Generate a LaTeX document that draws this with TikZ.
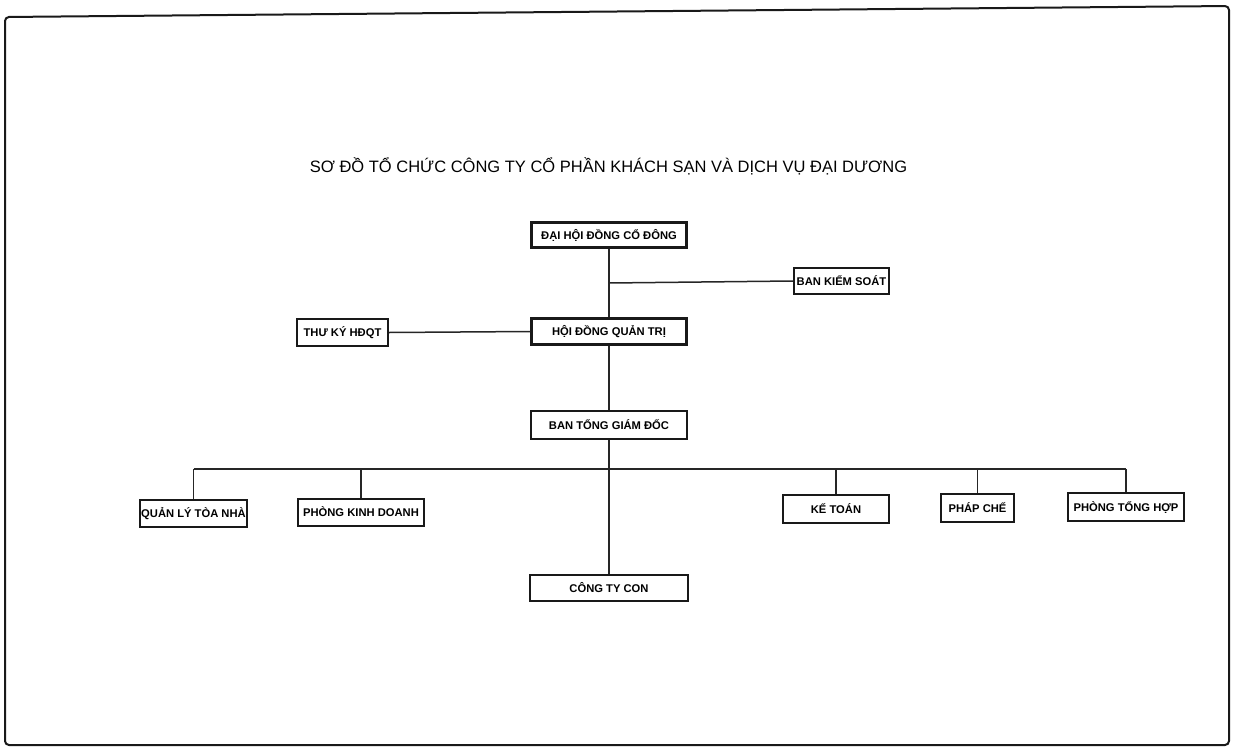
\documentclass[tikz,border=0pt]{standalone}
\usepackage{fontspec}
\setmainfont{Liberation Sans}
\begin{document}
\begin{tikzpicture}[x=1pt,y=-1pt,
  box/.style={draw=black!90, line width=2.3pt, fill=white, inner sep=0pt,
    font=\bfseries\fontsize{11.2}{13}\selectfont, text height=8pt, text depth=0pt},
  link/.style={draw=black!85, line width=1.5pt},
  frame/.style={draw=black!90, line width=2pt, rounded corners=4pt}]
\useasboundingbox (0,0) rectangle (1235,747);
\draw[frame] (5,745) -- (5,17) -- (1229,6) -- (1229,745) -- cycle;

\node[anchor=base, font=\fontsize{16.5}{19}\selectfont] (title) at (608.5,172)
  {SƠ ĐỒ TỔ CHỨC CÔNG TY CỔ PHẦN KHÁCH SẠN VÀ DỊCH VỤ ĐẠI DƯƠNG};

% nodes
\node[box, minimum width=155pt, minimum height=25pt] (dhcd) at (609,235) {ĐẠI HỘI ĐỒNG CỔ ĐÔNG};
\node[box, minimum width=95pt, minimum height=26pt] (bks) at (841.5,281) {BAN KIỂM SOÁT};
\node[box, minimum width=155pt, minimum height=26pt] (hdqt) at (609,331.5) {HỘI ĐỒNG QUẢN TRỊ};
\node[box, minimum width=91pt, minimum height=27pt] (tk) at (342.5,332.5) {THƯ KÝ HĐQT};
\node[box, minimum width=156pt, minimum height=28pt] (btgd) at (609,425) {BAN TỔNG GIÁM ĐỐC};
\node[box, minimum width=158pt, minimum height=26pt] (ctc) at (609,588) {CÔNG TY CON};
\node[box, minimum width=107pt, minimum height=27pt] (qltn) at (193.5,513.5) {QUẢN LÝ TÒA NHÀ};
\node[box, minimum width=126pt, minimum height=27pt] (pkd) at (361,512.5) {PHÒNG KINH DOANH};
\node[box, minimum width=106pt, minimum height=28pt] (kt) at (836,509) {KẾ TOÁN};
\node[box, minimum width=73pt, minimum height=28pt] (pc) at (977.5,508) {PHÁP CHẾ};
\node[box, minimum width=116pt, minimum height=28pt] (pth) at (1126,507) {PHÒNG TỔNG HỢP};

% helper coordinates
\coordinate (ks) at (609,283);
\coordinate (busL) at (193.5,469);
\coordinate (busR) at (1126,469);

% connectors
\draw[link] (dhcd.south) -- (hdqt.north);
\draw[link] (ks) -- (bks.west);
\draw[link] (tk.east) -- (hdqt.west);
\draw[link] (hdqt.south) -- (btgd.north);
\draw[link] (btgd.south) -- (ctc.north);
\draw[link] (busL) -- (busR);
\draw[link] (busL) -- (qltn.north);
\draw[link] (pkd.north |- busL) -- (pkd.north);
\draw[link] (kt.north |- busL) -- (kt.north);
\draw[link] (pc.north |- busL) -- (pc.north);
\draw[link] (busR) -- (pth.north);
\end{tikzpicture}
\end{document}
